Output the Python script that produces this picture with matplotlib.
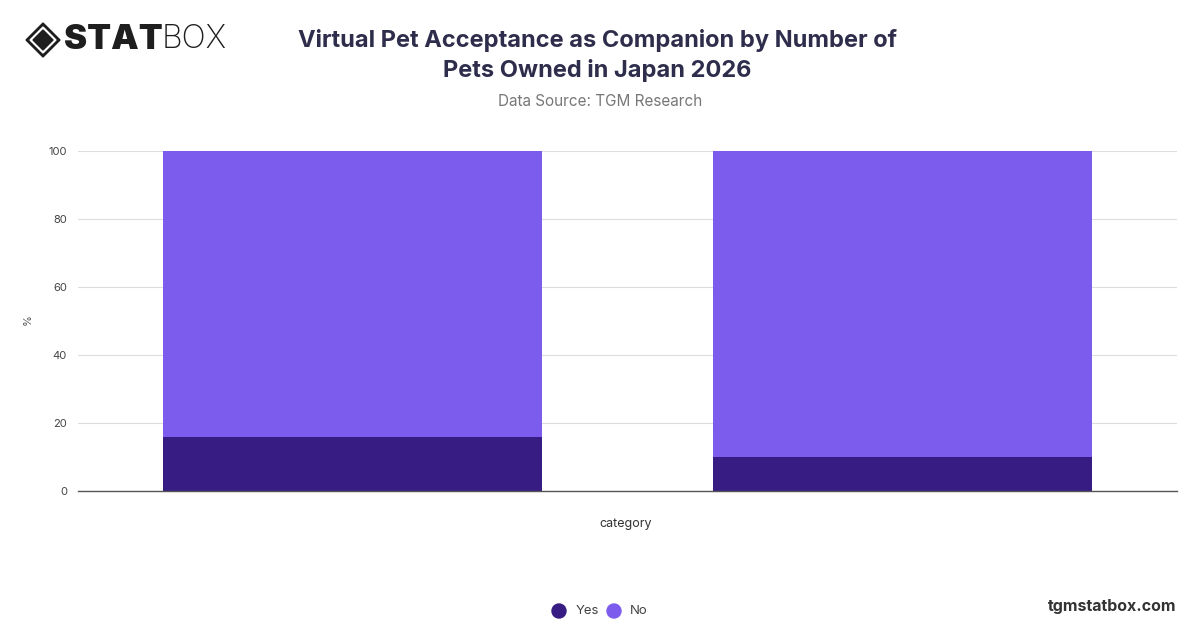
import numpy as np
import matplotlib.pyplot as plt
from matplotlib.patches import Polygon, Ellipse

# data
categories = ['1 pet', '2+ pets']
yes_share = [16, 10]
no_share = [84, 90]
series_names = ['Yes', 'No']
series_colors = ['#371c84', '#7b5ced']
y_ticks = [0, 20, 40, 60, 80, 100]

plt.rcParams['font.family'] = ['Inter', 'DejaVu Sans']

W, H = 1200, 628
fig = plt.figure(figsize=(W / 100, H / 100), dpi=100)
ax = fig.add_axes([0.065, 0.218, 0.916, 0.5416])

x = np.arange(len(categories))
ax.bar(x, yes_share, width=0.69, color=series_colors[0], zorder=3)
ax.bar(x, no_share, width=0.69, bottom=yes_share, color=series_colors[1], zorder=3)

ax.set_xlim(-0.5, len(categories) - 0.5)
ax.set_ylim(0, 100)
ax.set_yticks(y_ticks)
ax.tick_params(axis='y', length=0, labelsize=8, labelcolor='#444444', pad=8)
ax.set_xticks([])
ax.grid(axis='y', color='#dddddd', linewidth=0.8, zorder=0)
for s in ['top', 'right', 'left']:
    ax.spines[s].set_visible(False)
ax.spines['bottom'].set_color('#555555')
ax.spines['bottom'].set_linewidth(1.0)
ax.spines['bottom'].set_zorder(4)


def fx(px):
    return px / W


def fy(py):
    return 1 - py / H


fig.text(fx(28), fy(320), '%', rotation=90, ha='center', va='center',
         fontsize=8, color='#555555')
fig.text(fx(626), fy(524), 'category', ha='center', va='center',
         fontsize=9, color='#333333')

# title block
fig.text(fx(597), fy(40), 'Virtual Pet Acceptance as Companion by Number of',
         ha='center', va='center', fontsize=17, fontweight='bold', color='#2e2d4b')
fig.text(fx(597), fy(71), 'Pets Owned in Japan 2026',
         ha='center', va='center', fontsize=17, fontweight='bold', color='#2e2d4b')
fig.text(fx(600), fy(101), 'Data Source: TGM Research',
         ha='center', va='center', fontsize=11, color='#777777')

# legend
legend_x = [559, 614]
label_x = [576, 630]
for i, name in enumerate(series_names):
    fig.patches.append(Ellipse((fx(legend_x[i]), fy(611)), 14 / W, 14 / H,
                               transform=fig.transFigure, color=series_colors[i]))
    fig.text(fx(label_x[i]), fy(611), name, ha='left', va='center',
             fontsize=9.5, color='#444444')

fig.text(fx(1176), fy(606), 'tgmstatbox.com', ha='right', va='center',
         fontsize=11.5, fontweight='bold', color='#333333')

# logo
cx, cy, r = 43, 40, 17


def diamond(rr):
    return [(fx(cx), fy(cy - rr)), (fx(cx + rr), fy(cy)),
            (fx(cx), fy(cy + rr)), (fx(cx - rr), fy(cy))]


fig.patches.append(Polygon(diamond(r), closed=True, transform=fig.transFigure,
                           color='#1e1e1e'))
fig.patches.append(Polygon(diamond(r - 4), closed=True, transform=fig.transFigure,
                           color='white'))
fig.patches.append(Polygon(diamond(r - 7), closed=True, transform=fig.transFigure,
                           color='#1e1e1e'))
fig.text(fx(64), fy(40), 'STAT', ha='left', va='center', fontsize=25,
         fontweight='black', color='#1e1e1e')
fig.text(fx(162), fy(40), 'BOX', ha='left', va='center', fontsize=23,
         fontweight='light', color='#1e1e1e')

fig.savefig('out.png', dpi=100, facecolor='white')
